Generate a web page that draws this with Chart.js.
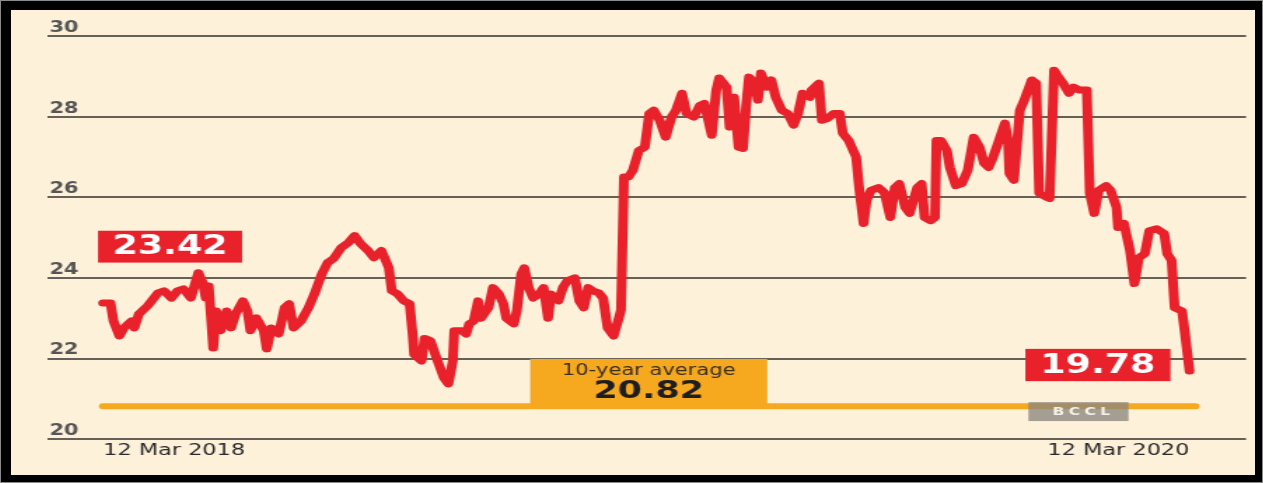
<!DOCTYPE html>
<html>
<head>
<meta charset="utf-8">
<script src="https://cdn.jsdelivr.net/npm/chart.js"></script>
<style>
  html, body { margin: 0; padding: 0; background: #000; }
  #frame { position: relative; width: 1263px; height: 483px; box-sizing: border-box; border: 1px solid #8a8a8a; background: #000; }
  #paper { position: absolute; left: 10px; top: 9px; width: 1244px; height: 465px; background: #fdf1da; overflow: hidden; }
  /* the printed graphic is stretched sideways, so the chart is too */
  #stretch { position: absolute; left: 0; top: 0; width: 888px; height: 465px; transform: scaleX(1.4009); transform-origin: 0 0; }
</style>
</head>
<body>
<div id="frame">
  <div id="paper">
    <div id="stretch"><canvas id="peChart"></canvas></div>
  </div>
</div>
<script>
// days after 12 Mar 2018, and P/E
var peDays = [0, 5, 7, 11, 14, 19, 21, 24, 30, 37, 41, 46, 50, 54, 59, 64, 67, 69, 71, 74,
  76, 79, 83, 86, 89, 94, 97, 99, 103, 108, 110, 113, 118, 122, 125, 128, 133, 138, 142, 147,
  151, 155, 160, 165, 169, 173, 178, 182, 187, 192, 194, 198, 202, 206, 208, 209, 214, 216, 220, 224,
  229, 232, 235, 236, 241, 244, 246, 249, 252, 254, 259, 262, 266, 269, 271, 276, 278, 281, 283, 286,
  289, 293, 296, 299, 301, 306, 309, 312, 317, 320, 323, 326, 329, 333, 336, 339, 343, 346, 348, 350,
  353, 356, 360, 364, 367, 370, 374, 378, 382, 385, 389, 392, 397, 401, 404, 409, 412, 414, 419, 421,
  424, 427, 430, 432, 434, 438, 440, 442, 446, 449, 452, 456, 460, 464, 467, 470, 475, 476, 481, 483,
  487, 491, 495, 497, 501, 504, 506, 508, 511, 513, 516, 521, 525, 529, 532, 535, 539, 542, 547, 550,
  552, 556, 559, 560, 563, 567, 569, 573, 577, 581, 585, 589, 592, 595, 598, 602, 606, 608, 609, 612,
  616, 619, 624, 627, 629, 634, 636, 639, 642, 645, 649, 652, 656, 661, 663, 666, 669, 674, 677, 681,
  682, 686, 690, 693, 696, 700, 703, 708, 713, 715, 718, 720, 725, 727, 730];
var peValues = [23.38, 23.38, 22.93, 22.56, 22.76, 22.93, 22.76, 23.10, 23.31, 23.63, 23.68, 23.50, 23.68, 23.73, 23.50, 24.13, 23.88, 23.50, 23.80, 22.26,
  23.18, 22.69, 23.18, 22.76, 23.10, 23.43, 23.18, 22.69, 23.01, 22.69, 22.24, 22.76, 22.61, 23.26, 23.36, 22.76, 22.93, 23.26, 23.60, 24.10,
  24.38, 24.48, 24.75, 24.88, 25.05, 24.85, 24.68, 24.50, 24.68, 24.25, 23.68, 23.60, 23.43, 23.36, 22.60, 22.10, 21.94, 22.50, 22.44, 22.02,
  21.52, 21.37, 21.94, 22.69, 22.69, 22.61, 22.86, 22.93, 23.43, 23.00, 23.26, 23.76, 23.60, 23.36, 23.00, 22.86, 23.18, 24.10, 24.25, 23.76,
  23.50, 23.60, 23.76, 23.00, 23.60, 23.43, 23.76, 23.93, 24.00, 23.43, 23.26, 23.76, 23.68, 23.63, 23.50, 22.76, 22.56, 22.93, 23.20, 26.50,
  26.50, 26.67, 27.16, 27.24, 28.08, 28.16, 27.91, 27.49, 27.99, 28.16, 28.58, 28.08, 27.99, 28.28, 28.33, 27.54, 28.66, 28.96, 28.73, 27.74,
  28.48, 27.24, 27.21, 28.23, 28.98, 28.83, 28.41, 29.08, 28.73, 28.91, 28.48, 28.16, 28.08, 27.79, 28.08, 28.58, 28.48, 28.66, 28.83, 27.91,
  27.96, 28.08, 28.08, 27.59, 27.41, 27.16, 27.00, 26.24, 25.35, 25.92, 26.17, 26.24, 26.12, 25.50, 26.24, 26.34, 25.75, 25.60, 26.24, 26.34,
  25.50, 25.42, 25.50, 27.41, 27.41, 27.16, 26.74, 26.29, 26.34, 26.67, 27.49, 27.24, 26.84, 26.74, 26.99, 27.41, 27.84, 27.41, 26.59, 26.42,
  28.16, 28.41, 28.91, 28.83, 26.10, 26.00, 25.97, 29.15, 28.98, 28.83, 28.58, 28.73, 28.66, 28.66, 26.10, 25.60, 26.17, 26.29, 26.17, 25.75,
  25.25, 25.35, 24.68, 23.86, 24.50, 24.60, 25.17, 25.22, 25.10, 24.60, 24.43, 23.26, 23.18, 22.61, 21.69];

var tenYearAvg = 20.82;
var avgSpan = [0, 734];
var startValue = "23.42";
var endValue = "19.78";

var yTickValues = [20, 22, 24, 26, 28, 30];
var xTickDays = [0, 730];
var xTickLabels = ["12 Mar 2018", "12 Mar 2020"];

var RED = "#e8212b";
var ORANGE = "#f6a81f";

Chart.defaults.font.family = "'DejaVu Sans', sans-serif";

function spacedText(ctx, str, cx, cy, gap) {
    var chars = str.split("");
    var widths = chars.map(function (ch) { return ctx.measureText(ch).width; });
    var total = widths.reduce(function (a, b) { return a + b; }, 0) + gap * (chars.length - 1);
    var px = cx - total / 2;
    ctx.textAlign = "left";
    chars.forEach(function (ch, i) {
        ctx.fillText(ch, px, cy);
        px += widths[i] + gap;
    });
}

//boxes are placed in data units so they follow the scales
var boxNotes = {
    id: "boxNotes",
    afterDatasetsDraw: function (chart) {
        var ctx = chart.ctx;
        var xs = chart.scales.x, ys = chart.scales.y;
        function rect(from, to, top, bottom) {
            var l = xs.getPixelForValue(from), r = xs.getPixelForValue(to);
            var t = ys.getPixelForValue(top), b = ys.getPixelForValue(bottom);
            return { l: l, t: t, w: r - l, h: b - t, cx: (l + r) / 2, cy: (t + b) / 2 };
        }
        ctx.save();
        ctx.textBaseline = "middle";
        ctx.textAlign = "center";

        // start value
        var a = rect(-3.4, 93.4, 25.17, 24.38);
        ctx.fillStyle = RED;
        ctx.fillRect(a.l, a.t, a.w, a.h);
        ctx.fillStyle = "#ffffff";
        ctx.font = "bold 26px 'DejaVu Sans'";
        ctx.fillText(startValue, a.cx, a.cy + 1);

        // end value
        var b = rect(619.7, 717.2, 22.24, 21.44);
        ctx.fillStyle = RED;
        ctx.fillRect(b.l, b.t, b.w, b.h);
        ctx.fillStyle = "#ffffff";
        ctx.fillText(endValue, b.cx, b.cy + 1);

        // 10-year average
        var c = rect(287, 446.3, 21.99, 20.85);
        ctx.fillStyle = ORANGE;
        ctx.fillRect(c.l, c.t, c.w, c.h);
        ctx.fillStyle = "#3a3020";
        ctx.font = "15px 'DejaVu Sans'";
        ctx.fillText("10-year average", c.cx, c.t + 12);
        ctx.fillStyle = "#1e1e1e";
        ctx.font = "bold 25px 'DejaVu Sans'";
        ctx.fillText(tenYearAvg.toFixed(2), c.cx, c.t + 33);

        // credit
        var d = rect(621.8, 689, 20.92, 20.45);
        ctx.fillStyle = "rgba(140,135,125,0.78)";
        ctx.fillRect(d.l, d.t, d.w, d.h);
        ctx.fillStyle = "#f6f3ec";
        ctx.font = "bold 11px 'DejaVu Sans'";
        spacedText(ctx, "BCCL", d.cx + 2, d.cy + 1, 3.2);

        ctx.restore();
    }
};

var ctx1 = document.getElementById("peChart");

var data1 = {
    datasets: [
        {
            label: "P/E",
            data: peDays.map(function (d, i) { return { x: d, y: peValues[i] }; }),
            borderColor: RED,
            borderWidth: 7,
            borderJoinStyle: "round",
            borderCapStyle: "round",
            pointRadius: 0,
            tension: 0
        },
        {
            label: "10-year average",
            data: avgSpan.map(function (d) { return { x: d, y: tenYearAvg }; }),
            borderColor: ORANGE,
            borderWidth: 6,
            borderCapStyle: "round",
            pointRadius: 0
        }
    ]
};

var options = {
    responsive: true,
    maintainAspectRatio: false,
    animation: false,
    layout: {
        padding: { left: 24.4, right: 6.4, top: 26, bottom: 12.6 }
    },
    plugins: {
        legend: { display: false },
        tooltip: { enabled: false },
        title: { display: false }
    },
    scales: {
        x: {
            type: "linear",
            min: -37,
            max: 768,
            grid: { display: false, drawTicks: false },
            border: { display: false },
            afterBuildTicks: function (scale) {
                scale.ticks = xTickDays.map(function (v) { return { value: v }; });
            },
            ticks: {
                align: "inner",
                autoSkip: false,
                maxRotation: 0,
                padding: 2,
                color: "#2a2a2a",
                font: { size: 16 },
                callback: function (value, index) { return xTickLabels[index]; }
            }
        },
        y: {
            min: 20,
            max: 30,
            grid: { color: "rgba(75,72,62,0.85)", lineWidth: 2, drawTicks: false },
            border: { display: false },
            afterBuildTicks: function (scale) {
                scale.ticks = yTickValues.map(function (v) { return { value: v }; });
            },
            ticks: {
                mirror: true,
                padding: 1,
                labelOffset: -8,
                color: "#555555",
                font: { size: 15, weight: "bold" },
                callback: function (value) { return String(value); }
            }
        }
    }
};

var chart1 = new Chart(ctx1, {
    type: "line",
    data: data1,
    options: options,
    plugins: [boxNotes]
});
</script>
</body>
</html>
